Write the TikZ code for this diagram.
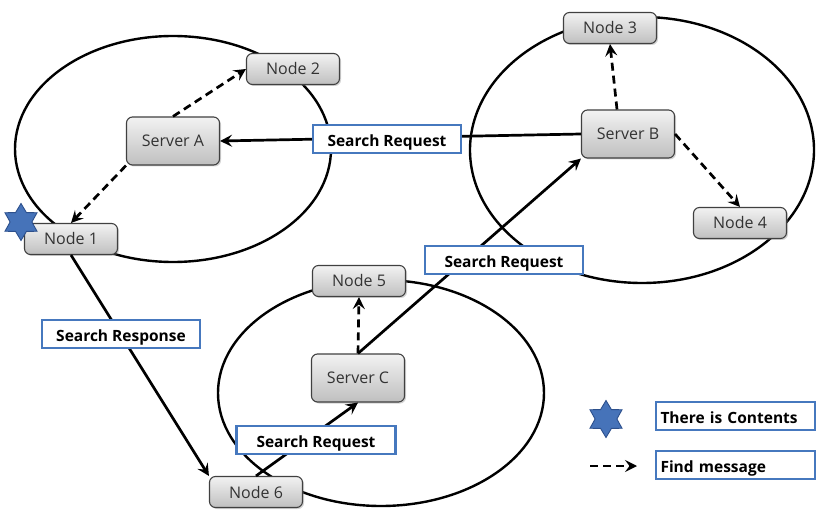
\documentclass[tikz,border=0pt]{standalone}
\usepackage{fontspec}
\setmainfont{Open Sans}
\usetikzlibrary{arrows.meta,shadows,shapes.geometric}
\definecolor{boxblue}{RGB}{70,120,190}
\definecolor{starblue}{RGB}{70,115,185}
\definecolor{stardark}{RGB}{45,80,140}
\newcommand{\lowtext}[1]{\smash{\raisebox{-7.5pt}{#1}}}
\tikzset{
  peer/.style={draw=black!75, line width=1.1pt, rounded corners=6pt,
    top color=white!95!black, bottom color=black!25, minimum width=93pt,
    minimum height=31pt, inner sep=0pt, font=\fontsize{16}{18}\selectfont,
    text=black!80, drop shadow={shadow xshift=1.5pt, shadow yshift=-1.5pt, opacity=0.35}},
  server/.style={peer, minimum height=48pt},
  msgbox/.style={draw=boxblue, line width=2.4pt, fill=white, inner sep=0pt,
    minimum height=28pt, font=\fontsize{15.5}{17}\selectfont\bfseries, text=black},
  zone/.style={draw=black, line width=2.4pt},
  link/.style={draw=black, line width=2.7pt, -{Stealth[length=12pt,width=12pt,inset=4.5pt]}},
  find/.style={link, dash pattern=on 8pt off 5pt},
  hexstar/.style={star, star points=6, star point ratio=1.7, fill=starblue,
    draw=stardark, line width=0.9pt, minimum size=37pt, inner sep=0pt},
}
\begin{document}
\begin{tikzpicture}[x=1pt,y=-1pt]
\useasboundingbox (0,0) rectangle (817,513);
\begin{scope}
\clip (0,0) rectangle (817,513);

% three clusters
\draw[zone] (173,149) ellipse [x radius=158, y radius=113];
\draw[zone] (642,150) ellipse [x radius=172, y radius=133];
\draw[zone] (381,393) ellipse [x radius=163, y radius=113];

% peers and servers
\node[peer]   (n2) at (293,69)  {Node 2};
\node[server] (sa) at (173,141) {Server A};
\node[peer]   (n1) at (71,239)  {Node 1};
\node[peer]   (n3) at (610,28)  {Node 3};
\node[server] (sb) at (628,134) {Server B};
\node[peer]   (n4) at (740,223) {Node 4};
\node[peer]   (n5) at (359,281) {Node 5};
\node[server] (sc) at (358,378) {Server C};
\node[peer]   (n6) at (256,492) {Node 6};

% search messages
\draw[link] (sb.west) -- (sa.east);
\draw[link] (sc.north) -- (sb.south west);
\draw[link] (n6.north) -- (sc.south);
\draw[link] (n1.south) -- (n6.north west);

% find messages
\draw[find] (sa.north) -- (n2.west);
\draw[find] (sa.south west) -- (n1.north);
\draw[find] ([xshift=-11pt]sb.north) -- (n3.south);
\draw[find] (sb.east) -- (n4.north);
\draw[find] (sc.north) -- (n5.south);

% message labels
\node[msgbox, minimum width=148pt] (l1) at (387,139) {\lowtext{Search Request}};
\node[msgbox, minimum width=158pt] (l2) at (504,260) {\lowtext{Search Request}};
\node[msgbox, minimum width=158pt] (l3) at (121,334) {\lowtext{Search Response}};
\node[msgbox, minimum width=159pt] (l4) at (316,440) {\lowtext{Search Request}};

% content marker on Node 1
\node[hexstar] (s1) at (21,222) {};

% legend
\node[hexstar] (s2) at (606,419) {};
\node[msgbox, minimum width=159pt, text width=150pt, align=left] (g1) at (735.5,416) {\lowtext{There is Contents}};
\coordinate (ga) at (590,466);
\coordinate (gb) at (637,466);
\draw[find] (ga) -- (gb);
\node[msgbox, minimum width=159pt, text width=150pt, align=left] (g2) at (735.5,465) {\lowtext{Find message}};
\end{scope}
\end{tikzpicture}
\end{document}
